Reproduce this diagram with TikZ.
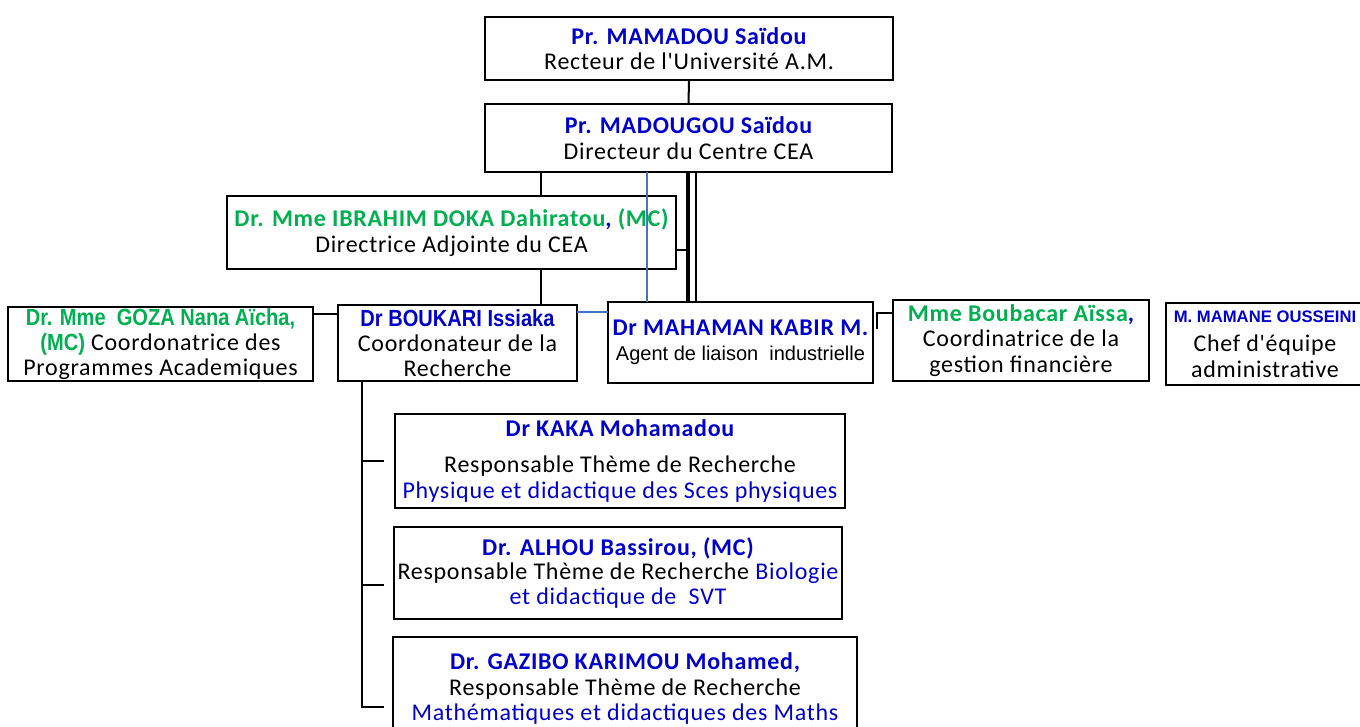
\documentclass[tikz,border=0pt]{standalone}
\usepackage{fontspec}
\newfontfamily\calf{Carlito}[LetterSpace=3]
\newfontfamily\arialf{Liberation Sans}
\newfontfamily\arialn{Liberation Sans}[FakeStretch=0.86]
\definecolor{nblue}{RGB}{0,0,204}
\definecolor{ngreen}{RGB}{0,176,80}
\definecolor{lblue}{RGB}{68,114,196}
\newcommand\bname[1]{{\color{nblue}\bfseries #1}}
\newcommand\gname[1]{{\color{ngreen}\bfseries #1}}
\newcommand\ablue[2]{{\arialf\bfseries\color{nblue}\fontsize{#1}{19}\selectfont #2}}
\newcommand\nblue[2]{{\arialn\bfseries\color{nblue}\fontsize{#1}{19}\selectfont #2}}
\newcommand\ngreen[2]{{\arialn\bfseries\color{ngreen}\fontsize{#1}{19}\selectfont #2}}
\begin{document}
\begin{tikzpicture}[x=0.75pt,y=-0.75pt,
  every node/.style={font=\calf\fontsize{18}{19}\selectfont, align=center, inner sep=0pt, outer sep=0pt},
  box/.style={draw=black, line width=1.5pt, fill=white},
  sz/.style 2 args={minimum width=#1*0.75pt, minimum height=#2*0.75pt},
  conn/.style={draw=black, line width=1.5pt},
  bconn/.style={draw=lblue, line width=1.2pt},
  heavy/.style={draw=black, line width=3pt}]
\useasboundingbox (0,0) rectangle (1360,726);

% boxes
\node[box, sz={408}{63}] (rect) at (689,48.5)
  {\bname{Pr. MAMADOU Saïdou}\\Recteur de l'Université A.M.};
\node[box, sz={407}{68}] (dir) at (688.5,138)
  {\bname{Pr. MADOUGOU Saïdou}\\Directeur du Centre CEA};
\node[box, sz={449}{73}] (ibr) at (451.5,232.5)
  {\gname{Dr. Mme IBRAHIM DOKA Dahiratou}\bname{,} \gname{(MC)}\\Directrice Adjointe du CEA};
\node[box, sz={305}{74}] (goza) at (160.5,344)
  {\ngreen{17.5}{Dr. Mme\ \ GOZA Nana Aïcha,}\\\ngreen{17.5}{(MC)} Coordonatrice des\\Programmes Academiques};
\node[box, sz={239}{76}] (bouk) at (457.5,343)
  {\nblue{17.5}{Dr BOUKARI Issiaka}\\Coordonateur de la\\Recherche};
\node[box, sz={265}{81}] (mah) at (740.5,342.5)
  {\bname{Dr MAHAMAN KABIR M.}\\{\arialf\fontsize{15}{19}\selectfont Agent de liaison\ \ industrielle}};
\node[box, sz={256}{81}] (bou) at (1021,340.5)
  {\gname{Mme Boubacar Aïssa}\bname{,}\\Coordinatrice de la\\gestion financière};
\node[box, sz={198}{82}] (mam) at (1265,344)
  {\ablue{12.5}{M. MAMANE OUSSEINI}\\[3pt]Chef d'équipe\\administrative};
\node[box, sz={450}{94}] (kaka) at (620,461)
  {\bname{Dr KAKA Mohamadou}\\[8pt]Responsable Thème de Recherche\\{\color{nblue}Physique et didactique des Sces physiques}};
\node[box, sz={448}{92}] (alhou) at (618,573)
  {\bname{Dr. ALHOU Bassirou, (MC)}\\[-1pt]Responsable Thème de Recherche {\color{nblue}Biologie}\\{\color{nblue}et didactique de\ \ SVT}};
\node[box, sz={464}{103}] (gaz) at (625,688.5)
  {\bname{Dr. GAZIBO KARIMOU Mohamed,}\\Responsable Thème de Recherche\\{\color{nblue}Mathématiques et didactiques des Maths}};

% helper coordinates
\coordinate (x541) at (541,0);
\coordinate (x647) at (647,0);
\coordinate (x688) at (688,0);
\coordinate (x696) at (696,0);
\coordinate (y250) at (0,250);
\coordinate (y312) at (0,312);
\coordinate (y314) at (0,314);
\coordinate (k1) at (877,313);
\coordinate (k2) at (877,329);
\coordinate (tx) at (362,0);
\coordinate (t1) at (362,461);
\coordinate (t2) at (362,585);
\coordinate (t3) at (362,707);
\coordinate (e1) at (384,461);
\coordinate (e2) at (384,585);
\coordinate (e3) at (384,707);

% connectors
\draw[conn] (rect.south) -- (dir.north);
\draw[conn] (dir.south -| x541) -- (ibr.north -| x541);
\draw[conn] (ibr.south -| x541) -- (bouk.north -| x541);
\draw[bconn] (dir.south -| x647) -- (mah.north -| x647);
\draw[bconn] (bouk.east |- y312) -- (mah.west |- y312);
\draw[heavy] (dir.south -| x688) -- (mah.north -| x688);
\draw[conn, line width=1.2pt] (dir.south -| x696) -- (mah.north -| x696);
\draw[conn] (ibr.east |- y250) -- (x688 |- y250);
\draw[conn] (goza.east |- y314) -- (bouk.west |- y314);
\draw[conn] (k2) -- (k1) -- (bou.west |- k1);
\draw[conn] (bouk.south -| tx) -- (t3) -- (e3);
\draw[conn] (t1) -- (e1);
\draw[conn] (t2) -- (e2);
\end{tikzpicture}
\end{document}
